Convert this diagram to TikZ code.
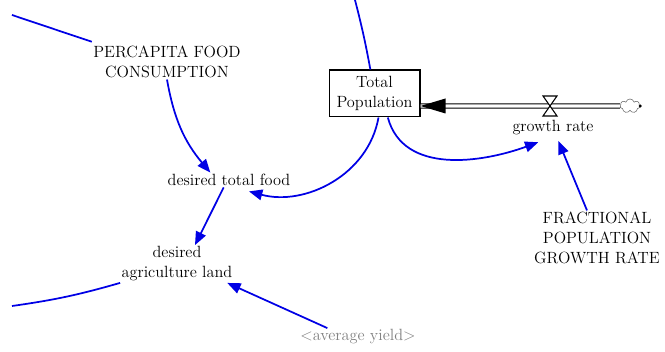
\documentclass[tikz,border=0pt]{standalone}
\usetikzlibrary{arrows.meta}
\usetikzlibrary{shapes.symbols}
\tikzset{
    tnode/.style = {align=center, inner sep=1pt, font=\fontsize{12.2}{15}\selectfont},
    var_node/.style = {tnode, text=black},
    shadow_node/.style = {tnode, text=black!50},
    stock_node/.style = {tnode, rectangle, draw=black, line width=1pt, minimum width=68pt, minimum height=35pt},
    cloud_node/.style = {cloud, cloud puffs=7, draw=black!60, thin, minimum width=15pt, minimum height=10.5pt, inner sep=0pt},
    link/.style = {->, draw=blue!90!black, line width=1.3pt},
    free_link/.style = {-, draw=blue!90!black, line width=1.3pt},
    pipe/.style = {draw=black, double=white, double distance=2.5pt, line width=0.8pt}
}

\begin{document}
\begin{tikzpicture}
    [x=0.75pt, y=0.75pt, >={Triangle[length=10pt, width=8pt]}]

    \useasboundingbox (0,0) rectangle (665,352);

    \node [var_node] (perc) at (167,290) {PERCAPITA FOOD\\CONSUMPTION};
    \node [var_node] (dtf) at (229,172) {desired total food};
    \node [var_node] (dal) at (177,88) {desired\\agriculture land};
    \node [shadow_node] (avg) at (358,15) {<average yield>};
    \node [stock_node] (pop) at (374.5,258.5) {Total\\Population};
    \node [var_node] (gr) at (553,224) {growth rate};
    \node [var_node] (frac) at (597,114) {FRACTIONAL\\POPULATION\\GROWTH RATE};
    \node [cloud_node] (cloud) at (630,246) {};

    \coordinate (valve) at (550,246);
    \coordinate (inflow) at (pop.east |- valve);
    \coordinate (top_end) at (355,352);
    \coordinate (perc_in) at (12,337);
    \coordinate (land_in) at (12,46);

    \draw [pipe] (cloud.west) -- (inflow);
    \fill (inflow) -- ++(25,7.5) -- ++(0,-15) -- cycle;
    \filldraw [fill=white, draw=black, line width=0.8pt]
        ([shift={(-7,10)}]valve) -- ++(14,0) -- ++(-14,-20) -- ++(14,0) -- cycle;
    \fill (cloud.east) circle (1.2pt);

    \draw [free_link] (top_end) to [bend left=2] (pop);
    \draw [free_link] (perc_in) -- ([yshift=2pt]perc.north west);
    \draw [free_link] (land_in) to [bend right=4] (dal.south west);
    \draw [link] (perc.south) to [out=-80, in=130] ([xshift=-14pt]dtf.north);
    \draw [link] ([xshift=3pt]pop.south) to [out=-100, in=-15] ([xshift=15pt, yshift=-3pt]dtf.south);
    \draw [link] ([xshift=-4pt]dtf.south) -- ([xshift=13.5pt]dal.north);
    \draw [link] ([xshift=-23pt]avg.north) -- ([xshift=-5pt]dal.south east);
    \draw [link] ([xshift=10pt]pop.south) to [out=-75, in=200] ([xshift=-11pt, yshift=-4pt]gr.south);
    \draw [link] ([xshift=-7.5pt]frac.north) -- ([xshift=4pt, yshift=-3pt]gr.south);
\end{tikzpicture}
\end{document}
